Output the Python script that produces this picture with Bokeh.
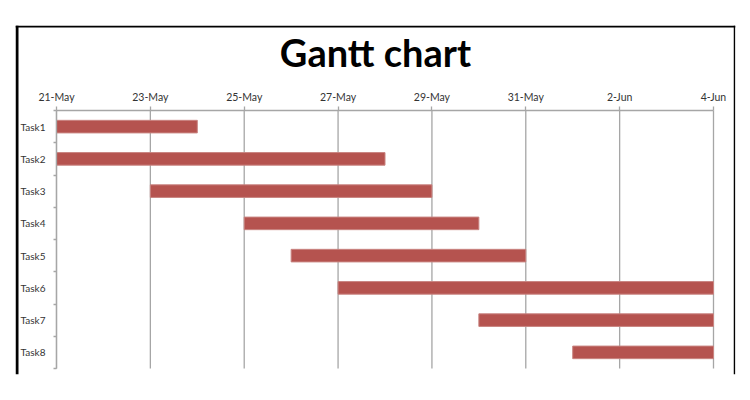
import pandas as pd
from bokeh.plotting import figure
from bokeh.models import Range1d, FixedTicker, Label, Span, ColumnDataSource
from bokeh.embed import file_html
from bokeh.resources import INLINE

# ---- data ----
tasks = ["Task1", "Task2", "Task3", "Task4", "Task5", "Task6", "Task7", "Task8"]
starts = ["2010-05-21", "2010-05-21", "2010-05-23", "2010-05-25",
          "2010-05-26", "2010-05-27", "2010-05-30", "2010-06-01"]
ends = ["2010-05-24", "2010-05-28", "2010-05-29", "2010-05-30",
        "2010-05-31", "2010-06-04", "2010-06-04", "2010-06-04"]
tick_dates = ["2010-05-21", "2010-05-23", "2010-05-25", "2010-05-27",
              "2010-05-29", "2010-05-31", "2010-06-02", "2010-06-04"]
tick_labels = ["21-May", "23-May", "25-May", "27-May", "29-May", "31-May", "2-Jun", "4-Jun"]
title_text = "Gantt chart"


def ms(d):
    return int(pd.Timestamp(d).timestamp() * 1000)


start_ms = [ms(d) for d in starts]
end_ms = [ms(d) for d in ends]
tick_ms = [ms(d) for d in tick_dates]
ypos = [i + 0.5 for i in range(len(tasks))]
n = len(tasks)

# ---- layout (pixel geometry of the chart box) ----
W, H = 742, 392
BOX_L, BOX_R, BOX_T, BOX_B = 15, 735, 25, 374      # outer chart box (frame)
AX_L, AX_R, AX_T, AX_B = 56, 713, 110, 368          # data area inside the box
px_per_ms = (AX_R - AX_L) / (tick_ms[-1] - tick_ms[0])
px_per_row = (AX_B - AX_T) / n


def px_x(px):
    return tick_ms[0] + (px - AX_L) / px_per_ms


def px_y(py):
    return (py - AX_T) / px_per_row


src = ColumnDataSource(dict(task=tasks, y=ypos, left=start_ms, right=end_ms))

p = figure(width=W, height=H, output_backend="svg", toolbar_location=None,
           x_axis_type="datetime", x_axis_location="above", title=None,
           x_range=Range1d(px_x(BOX_L), px_x(BOX_R)),
           y_range=Range1d(px_y(BOX_B), px_y(BOX_T)),
           min_border_left=BOX_L, min_border_right=W - BOX_R,
           min_border_top=BOX_T, min_border_bottom=H - BOX_B)
p.outline_line_color = None
p.background_fill_color = "white"
p.border_fill_color = "white"
p.xgrid.grid_line_color = None
p.ygrid.grid_line_color = None

# vertical grid lines at the date ticks, spanning the task rows only
p.segment(x0=tick_ms, y0=[0] * len(tick_ms), x1=tick_ms, y1=[n] * len(tick_ms),
          line_color="#A6A6A6", line_width=1.3)

p.hbar(y="y", left="left", right="right", height=0.39, source=src,
       fill_color="#B5534F", line_color="#C98480", line_width=1)

# x axis (dates, above the rows)
xa = p.xaxis[0]
xa.fixed_location = 0
xa.bounds = (tick_ms[0], tick_ms[-1])
xa.ticker = FixedTicker(ticks=tick_ms)
xa.major_label_overrides = {t: l for t, l in zip(tick_ms, tick_labels)}
xa.axis_line_color = "#A6A6A6"
xa.axis_line_width = 1.3
xa.major_tick_line_color = "#A6A6A6"
xa.major_tick_line_width = 1.3
xa.major_tick_out = 4
xa.major_tick_in = 0
xa.minor_tick_out = 0
xa.minor_tick_in = 0
xa.major_label_standoff = 4
xa.major_label_text_font = "Lato"
xa.major_label_text_font_size = "10.5px"
xa.major_label_text_color = "#333333"

# y axis (tasks)
ya = p.yaxis[0]
ya.fixed_location = tick_ms[0]
ya.bounds = (0, n)
ya.ticker = FixedTicker(ticks=ypos, minor_ticks=list(range(n + 1)))
ya.major_label_overrides = {y: t for y, t in zip(ypos, tasks)}
ya.axis_line_color = "#A6A6A6"
ya.axis_line_width = 1.3
ya.major_tick_out = 0
ya.major_tick_in = 0
ya.minor_tick_out = 3
ya.minor_tick_in = 0
ya.minor_tick_line_color = "#A6A6A6"
ya.minor_tick_line_width = 1.3
ya.major_label_standoff = 8
ya.major_label_text_font = "Lato"
ya.major_label_text_font_size = "10px"
ya.major_label_text_color = "#333333"

# title
p.add_layout(Label(x=px_x(375), y=px_y(51), text=title_text,
                   text_font="Lato", text_font_style="bold", text_font_size="38px",
                   text_align="center", text_baseline="alphabetic", text_color="black"))

# chart box border: thick left, top, thin right (bottom cut off)
p.add_layout(Span(location=px_x(BOX_L + 1.5), dimension="height", line_color="black", line_width=3))
p.add_layout(Span(location=px_y(BOX_T + 1), dimension="width", line_color="black", line_width=2))
p.add_layout(Span(location=px_x(BOX_R - 1), dimension="height", line_color="black", line_width=1.5))

open("out.html", "w").write(file_html(p, INLINE))
